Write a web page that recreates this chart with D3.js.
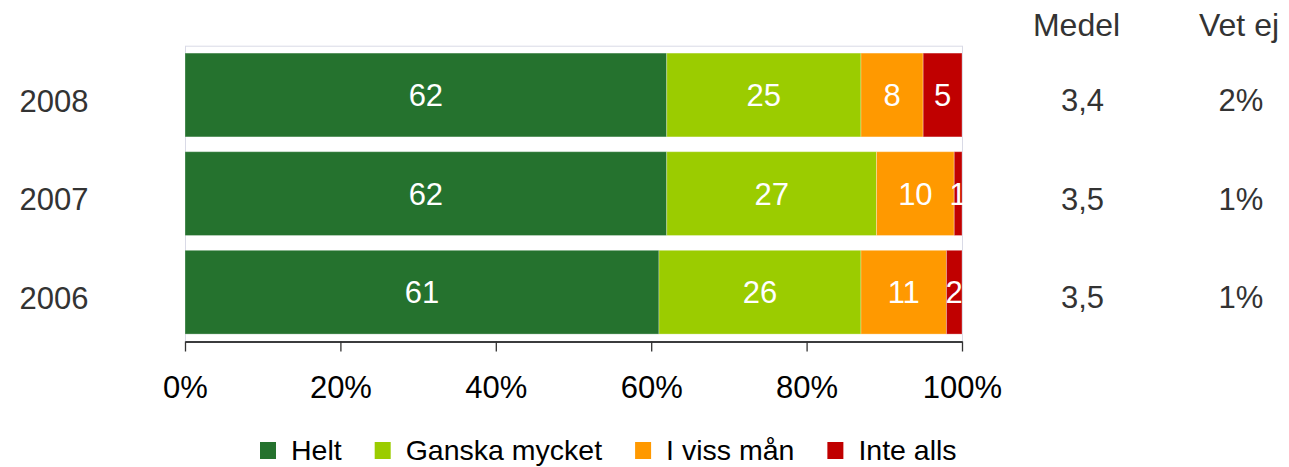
<!DOCTYPE html>
<html>
<head>
<meta charset="utf-8">
<script src="https://cdn.jsdelivr.net/npm/d3@7"></script>
<style>
  html, body { margin: 0; padding: 0; background: #fff; }
  svg { display: block; font-family: "Liberation Sans", Arial, sans-serif; }
</style>
</head>
<body>
<svg id="chart" width="1289" height="467"></svg>
<script>
const years = ["2008", "2007", "2006"];
const seriesNames = ["Helt", "Ganska mycket", "I viss mån", "Inte alls"];
const seriesColors = ["#25722E", "#9BCC00", "#FF9900", "#C00000"];
const helt = [62, 62, 61];
const ganskaMycket = [25, 27, 26];
const iVissMan = [8, 10, 11];
const inteAlls = [5, 1, 2];
const medel = ["3,4", "3,5", "3,5"];
const vetEj = ["2%", "1%", "1%"];
const xTicks = [0, 0.2, 0.4, 0.6, 0.8, 1.0];
const xTickLabels = ["0%", "20%", "40%", "60%", "80%", "100%"];

const svg = d3.select("#chart");
const plotLeft = 185, plotRight = 962, plotTop = 45.7, plotBottom = 341.5;

const x = d3.scaleLinear().domain([0, 1]).range([plotLeft, plotRight]);
const y = d3.scaleBand().domain(years).range([plotTop, plotBottom]).paddingInner(0.15).paddingOuter(0.075);

// table of stacked data
const rows = years.map((yr, i) => ({ year: yr, Helt: helt[i], "Ganska mycket": ganskaMycket[i], "I viss mån": iVissMan[i], "Inte alls": inteAlls[i] }));
const stack = d3.stack().keys(seriesNames)(rows);

// plot area border
svg.append("rect")
  .attr("x", plotLeft + 0.5).attr("y", plotTop + 0.5)
  .attr("width", plotRight - plotLeft).attr("height", plotBottom - plotTop)
  .attr("fill", "none").attr("stroke", "#D9DAE6").attr("stroke-width", 1);

const groups = svg.selectAll("g.series").data(stack).join("g")
  .attr("class", "series")
  .attr("fill", (d, i) => seriesColors[i]);

groups.selectAll("rect").data(d => d).join("rect")
  .attr("x", d => x(d[0] / 100))
  .attr("y", d => y(d.data.year))
  .attr("width", d => x(d[1] / 100) - x(d[0] / 100))
  .attr("height", y.bandwidth())
  .attr("stroke", "rgba(255,255,255,0.3)")
  .attr("stroke-width", 1);

// value labels
groups.selectAll("text").data(d => d.map(v => ({ v, key: d.key }))).join("text")
  .attr("x", d => x((d.v[0] + d.v[1]) / 200))
  .attr("y", d => y(d.v.data.year) + y.bandwidth() / 2)
  .attr("dy", "0.36em")
  .attr("text-anchor", "middle")
  .attr("fill", "#fff")
  .attr("font-size", 31)
  .text(d => d.v.data[d.key]);

// axis
const axis = d3.axisBottom(x).tickValues(xTicks)
  .tickFormat((d, i) => xTickLabels[i])
  .tickSize(10).tickSizeOuter(0).tickPadding(24);
const ax = svg.append("g").attr("transform", "translate(0,341.5)").call(axis);
ax.select(".domain").attr("stroke", "#000").attr("stroke-width", 1.3);
ax.selectAll(".tick line").attr("stroke", "#333").attr("stroke-width", 1.3);
ax.selectAll(".tick text").attr("font-size", 31).attr("fill", "#000")
  .attr("font-family", "Liberation Sans, Arial, sans-serif");

// year labels
svg.selectAll("text.year").data(years).join("text")
  .attr("class", "year")
  .attr("x", 54)
  .attr("y", d => y(d) + y.bandwidth() / 2 + 16.5)
  .attr("text-anchor", "middle")
  .attr("fill", "#333")
  .attr("font-size", 31)
  .text(d => d);

// side columns
svg.append("text").attr("x", 1076.5).attr("y", 36).attr("text-anchor", "middle")
  .attr("fill", "#333").attr("font-size", 32).text("Medel");
svg.append("text").attr("x", 1239).attr("y", 36).attr("text-anchor", "middle")
  .attr("fill", "#333").attr("font-size", 32).text("Vet ej");
svg.selectAll("text.medel").data(years).join("text")
  .attr("class", "medel")
  .attr("x", 1082.5)
  .attr("y", (d) => y(d) + y.bandwidth() / 2 + 16)
  .attr("text-anchor", "middle").attr("fill", "#333").attr("font-size", 31)
  .text((d, i) => medel[i]);
svg.selectAll("text.vetej").data(years).join("text")
  .attr("class", "vetej")
  .attr("x", 1241)
  .attr("y", (d) => y(d) + y.bandwidth() / 2 + 16)
  .attr("text-anchor", "middle").attr("fill", "#333").attr("font-size", 31)
  .text((d, i) => vetEj[i]);

// legend
const legend = svg.append("g").attr("transform", "translate(260,0)");
let lx = 0;
seriesNames.forEach((name, i) => {
  const g = legend.append("g").attr("transform", `translate(${lx},0)`);
  g.append("rect").attr("x", 0).attr("y", 442).attr("width", 16).attr("height", 17)
    .attr("fill", seriesColors[i]);
  const t = g.append("text").attr("x", 31).attr("y", 460)
    .attr("font-size", 28.5).attr("fill", "#000").text(name);
  lx += 31 + t.node().getComputedTextLength() + 33;
});
</script>
</body>
</html>
